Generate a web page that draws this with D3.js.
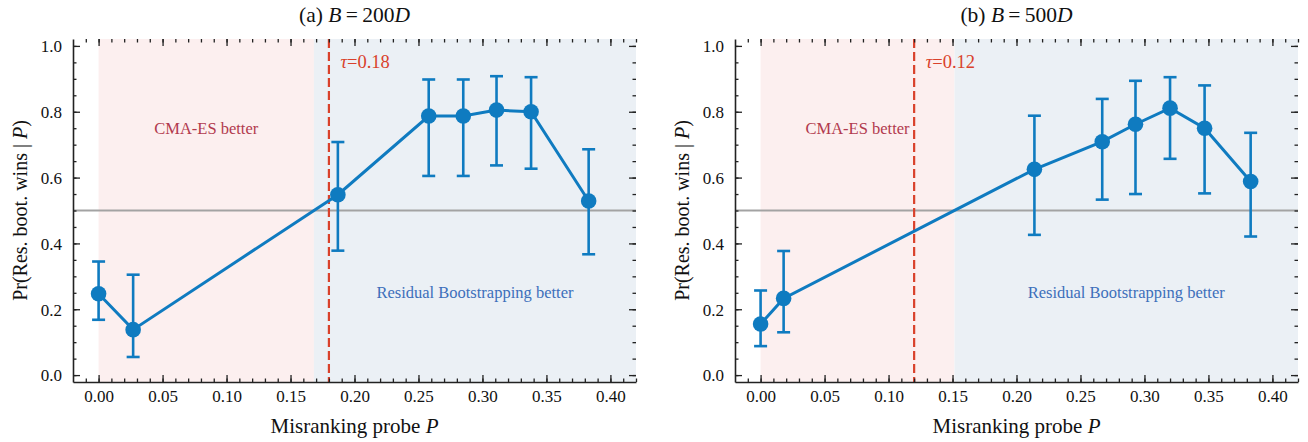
<!DOCTYPE html>
<html>
<head>
<meta charset="utf-8">
<script src="https://cdn.jsdelivr.net/npm/d3@7"></script>
<style>
  body { margin: 0; background: #fff; }
  svg text { font-family: "Liberation Serif", "Times New Roman", serif; }
</style>
</head>
<body>
<svg id="chart" width="1308" height="442"></svg>
<script>
// panel (a): B = 200D
const probeA = [0.0, 0.027, 0.187, 0.258, 0.285, 0.311, 0.338, 0.383];
const winA   = [0.247, 0.138, 0.548, 0.787, 0.787, 0.805, 0.800, 0.529];
const lowA   = [0.168, 0.055, 0.378, 0.605, 0.605, 0.637, 0.627, 0.367];
const highA  = [0.345, 0.305, 0.708, 0.898, 0.898, 0.908, 0.905, 0.686];
const tauA = 0.18;

// panel (b): B = 500D
const probeB = [0.0, 0.018, 0.214, 0.267, 0.293, 0.320, 0.347, 0.383];
const winB   = [0.155, 0.233, 0.625, 0.709, 0.762, 0.811, 0.750, 0.588];
const lowB   = [0.088, 0.130, 0.426, 0.533, 0.550, 0.657, 0.552, 0.421];
const highB  = [0.257, 0.377, 0.788, 0.839, 0.894, 0.905, 0.880, 0.736];
const tauB = 0.12;

const panelTags = ["(a)", "(b)"];
const budgets = ["200", "500"];
const xTicks = [0, 0.05, 0.1, 0.15, 0.2, 0.25, 0.3, 0.35, 0.4];
const yTicks = [0, 0.2, 0.4, 0.6, 0.8, 1.0];
const chance = 0.5;

const panels = [
  { probe: probeA, win: winA, low: lowA, high: highA, tau: tauA },
  { probe: probeB, win: winB, low: lowB, high: highB, tau: tauB }
];

const blue = "#0f7bc0", red = "#d9412b";
const margin = { top: 39, left: 73 };
const width = 563, height = 343, gap = 99;

const svg = d3.select("#chart");

// where the line crosses 0.5 (linear between neighbours)
function crossing(xs, ys) {
  for (let i = 1; i < xs.length; i++) {
    if ((ys[i - 1] - chance) * (ys[i] - chance) <= 0) {
      const t = (chance - ys[i - 1]) / (ys[i] - ys[i - 1]);
      return xs[i - 1] + t * (xs[i] - xs[i - 1]);
    }
  }
  return 0;
}

panels.forEach((p, k) => {
  const g = svg.append("g")
    .attr("transform", `translate(${margin.left + k * (width + gap)},${margin.top})`);

  const x = d3.scaleLinear().domain([-0.02, 0.42]).range([0, width]);
  const y = d3.scaleLinear().domain([-0.021, 1.021]).range([height, 0]);

  const cross = crossing(p.probe, p.win);

  // shaded regions
  g.append("rect")
    .attr("x", x(0)).attr("y", 0)
    .attr("width", x(cross) - x(0)).attr("height", height)
    .attr("fill", "#fcefef");
  g.append("rect")
    .attr("x", x(cross)).attr("y", 0)
    .attr("width", x(0.42) - x(cross)).attr("height", height)
    .attr("fill", "#ebf0f5");

  // chance line
  g.append("line")
    .attr("x1", 0).attr("x2", width)
    .attr("y1", y(chance)).attr("y2", y(chance))
    .attr("stroke", "#a3a3a3").attr("stroke-width", 2);

  // tau line
  g.append("line")
    .attr("x1", x(p.tau)).attr("x2", x(p.tau))
    .attr("y1", 0).attr("y2", height)
    .attr("stroke", red).attr("stroke-width", 2.2)
    .attr("stroke-dasharray", "9,4");

  const tauText = g.append("text")
    .attr("x", x(p.tau + 0.009)).attr("y", y(0.95) + 6)
    .attr("fill", red).attr("font-size", 18.5);
  tauText.append("tspan").attr("font-style", "italic").text("τ");
  tauText.append("tspan").text("=" + d3.format(".2f")(p.tau));

  // region labels
  g.append("text")
    .attr("x", x(cross / 2)).attr("y", y(0.75) + 5.5)
    .attr("text-anchor", "middle").attr("font-size", 16.5)
    .attr("fill", "#b23a4e").text("CMA-ES better");
  g.append("text")
    .attr("x", x((cross + 0.42) / 2)).attr("y", y(0.25) + 5.5)
    .attr("text-anchor", "middle").attr("font-size", 16.5)
    .attr("fill", "#3d6fbb").text("Residual Bootstrapping better");

  // axes: ticks pointing inward on all sides
  const fmtX = d3.format(".2f"), fmtY = d3.format(".1f");
  const xMinor = d3.range(-1, 43).map(d => d / 100);
  const yMinor = d3.range(0, 21).map(d => d / 20);

  g.append("g").attr("transform", `translate(0,${height})`)
    .call(d3.axisBottom(x).tickValues(xTicks).tickFormat(fmtX).tickSize(-7).tickSizeOuter(0).tickPadding(8));
  g.append("g").attr("transform", `translate(0,${height})`)
    .call(d3.axisBottom(x).tickValues(xMinor).tickFormat("").tickSize(-3.5).tickSizeOuter(0))
    .select(".domain").remove();
  const left = g.append("g")
    .call(d3.axisLeft(y).tickValues(yTicks).tickFormat(fmtY).tickSize(-7).tickSizeOuter(0).tickPadding(11));
  g.append("g")
    .call(d3.axisLeft(y).tickValues(yMinor).tickFormat("").tickSize(-3.5).tickSizeOuter(0))
    .select(".domain").remove();

  g.append("g")
    .call(d3.axisTop(x).tickValues(xTicks).tickFormat("").tickSize(-7))
    .select(".domain").remove();
  g.append("g")
    .call(d3.axisTop(x).tickValues(xMinor).tickFormat("").tickSize(-3.5))
    .select(".domain").remove();
  g.append("g").attr("transform", `translate(${width},0)`)
    .call(d3.axisRight(y).tickValues(yTicks).tickFormat("").tickSize(-7))
    .select(".domain").remove();
  g.append("g").attr("transform", `translate(${width},0)`)
    .call(d3.axisRight(y).tickValues(yMinor).tickFormat("").tickSize(-3.5))
    .select(".domain").remove();

  g.selectAll(".tick line").attr("stroke", "#222").attr("stroke-width", 1.3);
  g.selectAll(".domain").attr("stroke", "#222").attr("stroke-width", 1.6);
  g.selectAll(".tick text")
    .attr("font-family", "Liberation Serif").attr("font-size", 17).attr("fill", "#111");
  left.selectAll(".tick text").attr("dy", "0.34em");

  // error bars
  const idx = d3.range(p.probe.length);
  const bars = g.append("g").attr("stroke", blue).attr("stroke-width", 2.6);
  bars.selectAll(".eb").data(idx).join("line")
    .attr("x1", i => x(p.probe[i])).attr("x2", i => x(p.probe[i]))
    .attr("y1", i => y(p.low[i])).attr("y2", i => y(p.high[i]));
  bars.selectAll(".capHi").data(idx).join("line")
    .attr("x1", i => x(p.probe[i]) - 6.5).attr("x2", i => x(p.probe[i]) + 6.5)
    .attr("y1", i => y(p.high[i])).attr("y2", i => y(p.high[i]));
  bars.selectAll(".capLo").data(idx).join("line")
    .attr("x1", i => x(p.probe[i]) - 6.5).attr("x2", i => x(p.probe[i]) + 6.5)
    .attr("y1", i => y(p.low[i])).attr("y2", i => y(p.low[i]));

  // line + markers
  const line = d3.line().x(i => x(p.probe[i])).y(i => y(p.win[i]));
  g.append("path").datum(idx)
    .attr("fill", "none").attr("stroke", blue).attr("stroke-width", 3)
    .attr("d", line);
  g.append("g").selectAll("circle").data(idx).join("circle")
    .attr("cx", i => x(p.probe[i])).attr("cy", i => y(p.win[i]))
    .attr("r", 7.8).attr("fill", blue);

  // title
  const title = g.append("text")
    .attr("x", width / 2).attr("y", -17)
    .attr("text-anchor", "middle").attr("font-size", 21.5).attr("fill", "#111");
  title.append("tspan").text(panelTags[k] + " ");
  title.append("tspan").attr("font-style", "italic").text("B");
  title.append("tspan").text("\u2009=\u2009" + budgets[k]);
  title.append("tspan").attr("font-style", "italic").text("D");

  // x label
  const xl = g.append("text")
    .attr("x", width / 2).attr("y", height + 51)
    .attr("text-anchor", "middle").attr("font-size", 21).attr("fill", "#111");
  xl.append("tspan").text("Misranking probe ");
  xl.append("tspan").attr("font-style", "italic").text("P");

  // y label
  const yl = g.append("text")
    .attr("transform", `translate(-46,${height / 2}) rotate(-90)`)
    .attr("text-anchor", "middle").attr("font-size", 20).attr("fill", "#111");
  yl.append("tspan").text("Pr(Res. boot. wins | ");
  yl.append("tspan").attr("font-style", "italic").text("P");
  yl.append("tspan").text(")");
});
</script>
</body>
</html>
